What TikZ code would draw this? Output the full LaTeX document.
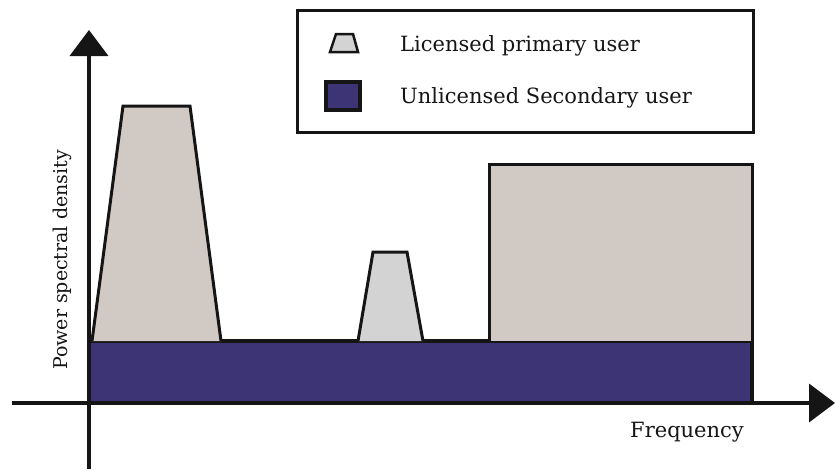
\documentclass[tikz,border=0pt]{standalone}
\usepackage{fontspec}
\setmainfont{DejaVu Serif}
\usetikzlibrary{arrows.meta}
\definecolor{primaryfill}{HTML}{D1C9C3}
\definecolor{smallfill}{HTML}{D3D3D3}
\definecolor{secondaryfill}{HTML}{3D3475}
\definecolor{ink}{HTML}{151515}
\tikzset{
  axis/.style={line width=4pt, draw=ink, -{Triangle[length=26pt,width=38pt]}},
  primary/.style={draw=ink, line width=3pt, line join=miter, fill=primaryfill},
  secondary/.style={draw=ink, line width=4pt, fill=secondaryfill},
  legendbox/.style={draw=ink, line width=2.5pt},
  label/.style={font=\fontsize{21}{25}\selectfont, text=ink, inner sep=0pt},
}
\begin{document}
\begin{tikzpicture}[x=1pt, y=-1pt]
  \useasboundingbox (0,0) rectangle (835,469);
  % secondary user band
  \path[secondary] (89,341) rectangle (752,403);
  % licensed primary users
  \path[primary] (92,341) -- (123,106) -- (190,106) -- (221,341);
  \path[primary, fill=smallfill] (358,341) -- (373,252) -- (407,252) -- (423,341);
  \path[primary] (489,341) -- (489,164) -- (752,164) -- (752,341);
  % axes
  \coordinate (ybottom) at (89,469);
  \coordinate (ytop) at (89,30);
  \coordinate (xleft) at (12,403);
  \coordinate (xright) at (835,403);
  \draw[axis] (ybottom) -- (ytop);
  \draw[axis] (xleft) -- (xright);
  \node[label, anchor=base west] (freq) at (630,437) {Frequency};
  \node[label, font=\fontsize{19}{23}\selectfont, rotate=90, anchor=base] (psd) at (67,260) {Power spectral density};
  % legend
  \node[legendbox, minimum width=456pt, minimum height=122pt, anchor=north west, inner sep=0pt] (legend) at (296,9) {};
  \path[primary, line width=2.5pt, fill=smallfill] (330,52) -- (336,34) -- (353,34) -- (358,52) -- cycle;
  \path[secondary, line width=4pt] (326,82) rectangle (360,110);
  \node[label, anchor=base west] (lpu) at (400,51) {Licensed primary user};
  \node[label, anchor=base west] (usu) at (400,103) {Unlicensed Secondary user};
\end{tikzpicture}
\end{document}
